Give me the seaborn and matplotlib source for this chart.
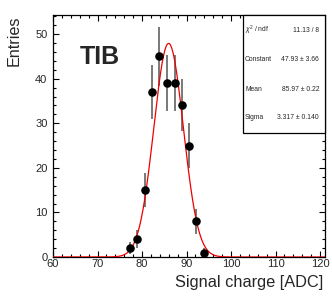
import numpy as np
import pandas as pd
import matplotlib
matplotlib.use("Agg")
import matplotlib.pyplot as plt
from matplotlib.patches import Rectangle
from matplotlib.ticker import MultipleLocator
import seaborn as sns

# Data
bin_centers = [77.3, 78.9, 80.6, 82.3, 83.9, 85.7, 87.3, 88.9, 90.5, 92.1, 93.9]
entries = [2, 4, 15, 37, 45, 39, 39, 34, 25, 8, 1]
entry_errors = [1.41, 2.0, 3.87, 6.08, 6.71, 6.24, 6.24, 5.83, 5.0, 2.83, 1.0]

fit_constant = 47.93
fit_mean = 85.97
fit_sigma = 3.317

stat_names = [r"$\chi^2$ / ndf", "Constant", "Mean", "Sigma"]
stat_values = ["11.13 / 8", "47.93 \u00b1 3.66", "85.97 \u00b1 0.22", "3.317 \u00b1 0.140"]

x_ticks = [60, 70, 80, 90, 100, 110, 120]
y_ticks = [0, 10, 20, 30, 40, 50]

sns.set_style("white")
plt.rcParams["font.family"] = ["Liberation Sans", "DejaVu Sans"]
plt.rcParams["mathtext.fontset"] = "custom"
plt.rcParams["mathtext.rm"] = "Liberation Sans"
plt.rcParams["mathtext.it"] = "Liberation Sans:italic"

fig = plt.figure(figsize=(3.32, 2.96), dpi=100)
ax = fig.add_axes([53 / 332, 39 / 296, 272 / 332, 242 / 296])

df = pd.DataFrame({"x": bin_centers, "y": entries, "err": entry_errors})

# Fit curve
xs = np.linspace(60, 121.1, 600)
curve = pd.DataFrame({"x": xs, "y": fit_constant * np.exp(-0.5 * ((xs - fit_mean) / fit_sigma) ** 2)})
sns.lineplot(data=curve, x="x", y="y", color="#ee0000", linewidth=0.9, ax=ax, zorder=3)

ax.errorbar(df["x"], df["y"], yerr=df["err"], fmt="none", ecolor="#6e6e6e",
            elinewidth=1.3, capsize=0, zorder=2)
sns.scatterplot(data=df, x="x", y="y", color="black", s=38, edgecolor="black",
                linewidth=0, ax=ax, zorder=4)

ax.set_xlim(60, 121.1)
ax.set_ylim(0, 54.3)
ax.set_xticks(x_ticks)
ax.set_yticks(y_ticks)
ax.xaxis.set_minor_locator(MultipleLocator(2))
ax.yaxis.set_minor_locator(MultipleLocator(2))
ax.tick_params(which="both", direction="in", top=True, right=True, bottom=True, left=True,
               color="black", width=0.8)
ax.tick_params(which="major", length=4.5, labelsize=8.0)
ax.tick_params(which="minor", length=2.3)
ax.tick_params(axis="x", pad=1.5)
ax.tick_params(axis="y", pad=4)
for s in ax.spines.values():
    s.set_color("black")
    s.set_linewidth(0.9)

ax.set_xlabel("")
ax.set_ylabel("")
fig.text(323 / 332, 1 - 283 / 296, "Signal charge [ADC]", ha="right", va="center", fontsize=11.8)
fig.text(14 / 332, 1 - 15 / 296, "Entries", ha="center", va="top", rotation=90, fontsize=11.6)

ax.text(100, 1 - 0, "", transform=ax.transAxes)
fig.text(100 / 332, 1 - 57.5 / 296, "TIB", ha="center", va="center", fontsize=18,
         fontweight="bold")

# Stats box
bx0 = (243 - 53) / 272
by0 = (257 - 133) / 242
ax.add_patch(Rectangle((bx0, by0), 1 - bx0, 1 - by0, transform=ax.transAxes,
                       facecolor="white", edgecolor="black", linewidth=0.9, zorder=6,
                       clip_on=False))
line_ys = [30, 59.3, 89.3, 117.7]
for name, val, ly in zip(stat_names, stat_values, line_ys):
    yf = 1 - ly / 296
    fig.text(245 / 332, yf, name, ha="left", va="center", fontsize=4.9, zorder=7)
    fig.text(319 / 332, yf, val, ha="right", va="center", fontsize=4.9, zorder=7)

fig.savefig("out.png", dpi=100)
